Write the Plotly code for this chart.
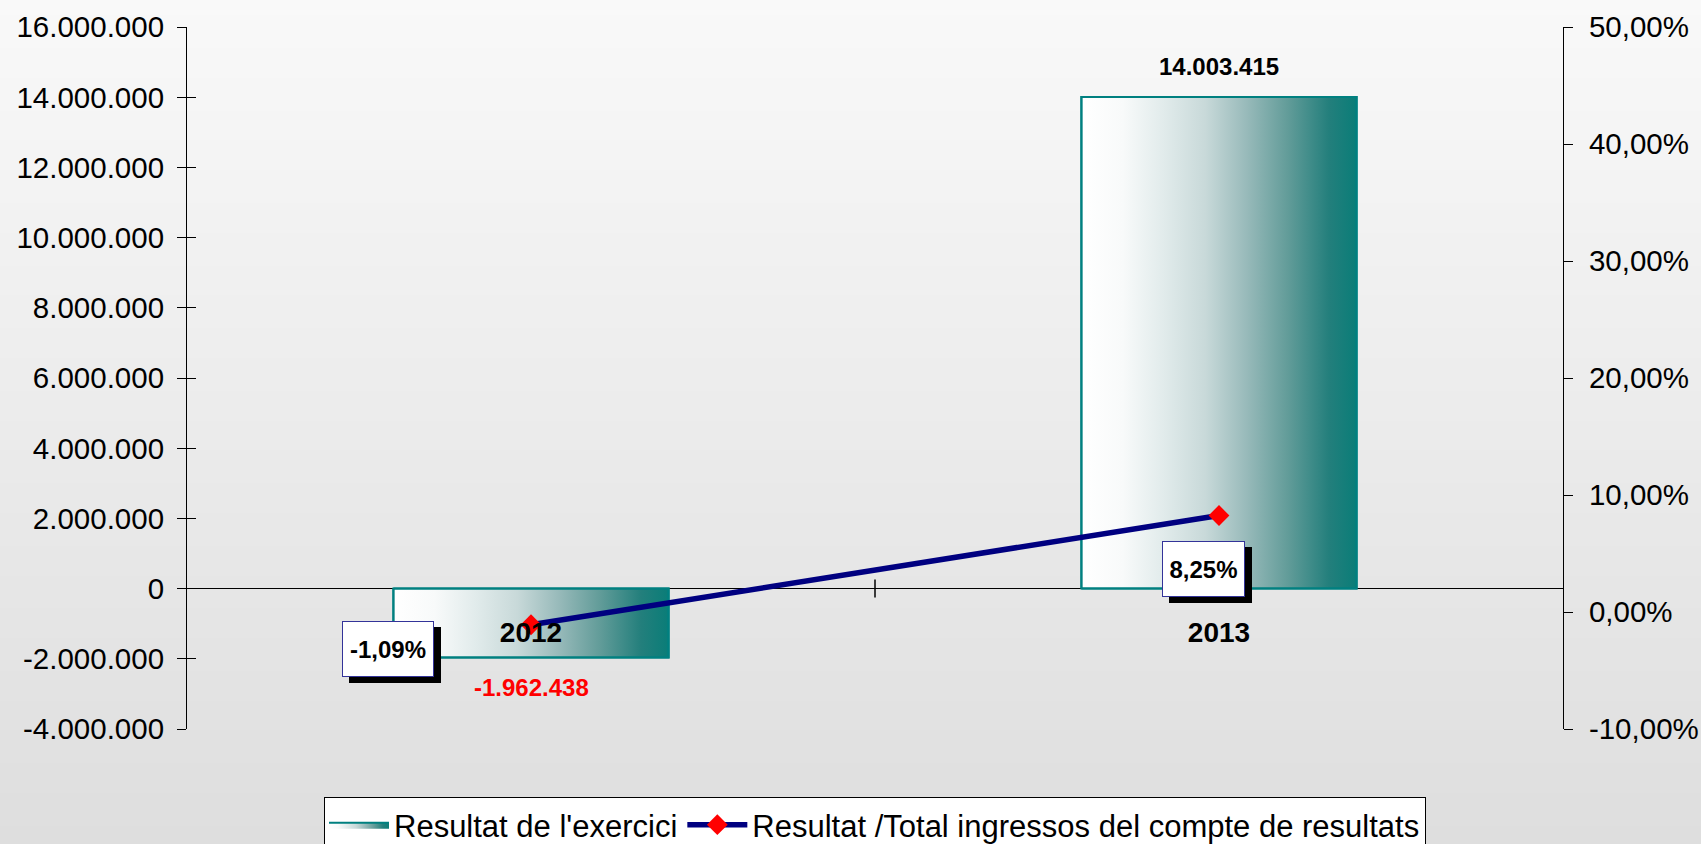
import base64
import struct
import zlib
import plotly.graph_objects as go

# ---------------- data ----------------
years = ["2012", "2013"]
resultat = [-1962438, 14003415]          # Resultat de l'exercici
ratio = [-0.0109, 0.0825]                # Resultat / Total ingressos
left_ticks = [-4000000, -2000000, 0, 2000000, 4000000, 6000000, 8000000,
              10000000, 12000000, 14000000, 16000000]
right_ticks = [-0.10, 0.0, 0.10, 0.20, 0.30, 0.40, 0.50]
bar_name = "Resultat de l'exercici"
line_name = "Resultat /Total ingressos del compte de resultats"

# ---------------- style / layout ----------------
FONT = "Liberation Sans, Arial, sans-serif"
W, H = 1701, 844
ML, MR, MT, MB = 187, 138, 27, 115
Y_RANGE = [-4000000, 16000000]
Y3_RANGE = [-0.10, 0.50]
BAR_W = 0.4
TEAL = "#008080"
NAVY = "#000080"
TICK_FONT = 29.5
bar_label_colors = ["#ff0000", "#000000"]
pct_offsets = [(-143, -24), (-16, -54)]     # label box offsets (px) from each point
pct_box_sizes = [(92, 56), (83, 56)]
SHADOW = (7, -6)
bar_grad = [[0.0, "#ffffff"], [0.15, "#f8fafa"], [0.3, "#e1ebeb"],
            [0.45, "#c8d9d9"], [0.6, "#98baba"], [0.75, "#629c99"],
            [0.9, "#237f7c"], [1.0, "#0a7d78"]]


def gradient_png(top, bottom, n=256):
    raw = b""
    for i in range(n):
        v = round(top + (bottom - top) * i / (n - 1))
        raw += b"\x00" + bytes([v])

    def chunk(tag, data):
        c = struct.pack(">I", len(data)) + tag + data
        return c + struct.pack(">I", zlib.crc32(tag + data) & 0xffffffff)

    png = (b"\x89PNG\r\n\x1a\n"
           + chunk(b"IHDR", struct.pack(">IIBBBBB", 1, n, 8, 0, 0, 0, 0))
           + chunk(b"IDAT", zlib.compress(raw))
           + chunk(b"IEND", b""))
    return "data:image/png;base64," + base64.b64encode(png).decode()


def fmt_int(v):
    return f"{v:,}".replace(",", ".")


def fmt_pct(v):
    return f"{v * 100:.2f}".replace(".", ",") + "%"


xs = list(range(len(years)))
fig = go.Figure()

# gradient fill of the bars (main axes)
for i, v in zip(xs, resultat):
    fig.add_trace(go.Scatter(
        x=[i - BAR_W / 2, i + BAR_W / 2, i + BAR_W / 2, i - BAR_W / 2, i - BAR_W / 2],
        y=[0, 0, v, v, 0],
        mode="lines", fill="toself",
        fillgradient=dict(type="horizontal", colorscale=bar_grad),
        line=dict(color=TEAL, width=2),
        name=bar_name, legendgroup="bar", showlegend=(i == 0),
        hoverinfo="skip", xaxis="x", yaxis="y",
    ))

# the bars themselves (outline), overlay axis matching y
fig.add_trace(go.Bar(
    x=xs, y=resultat, width=BAR_W,
    marker=dict(color="rgba(0,0,0,0)", line=dict(color=TEAL, width=2)),
    showlegend=False, name=bar_name, xaxis="x", yaxis="y2",
))

# ratio line
fig.add_trace(go.Scatter(
    x=xs, y=ratio, mode="lines+markers",
    line=dict(color=NAVY, width=5.5),
    marker=dict(symbol="diamond", size=16, color="#ff0000"),
    name=line_name, xaxis="x", yaxis="y3",
))

annotations = []
for i, v, c in zip(xs, resultat, bar_label_colors):
    annotations.append(dict(
        x=i, y=v, xref="x", yref="y", text=f"<b>{fmt_int(v)}</b>",
        showarrow=False, yshift=31 if v > 0 else -30,
        font=dict(family=FONT, size=24, color=c),
    ))

for i, r, (dx, dy), (bw, bh) in zip(xs, ratio, pct_offsets, pct_box_sizes):
    pad = 6
    common = dict(x=i, y=r, xref="x", yref="y3", showarrow=False,
                  text=f"<b>{fmt_pct(r)}</b>", width=bw - 2 * pad - 2,
                  height=bh - 2 * pad - 2, borderpad=pad, borderwidth=1,
                  align="center", valign="middle")
    annotations.append(dict(common, xshift=dx + SHADOW[0], yshift=dy + SHADOW[1],
                            bgcolor="#000000", bordercolor="#000000",
                            font=dict(family=FONT, size=24, color="#000000")))
    annotations.append(dict(common, xshift=dx, yshift=dy,
                            bgcolor="#ffffff", bordercolor="#333399",
                            font=dict(family=FONT, size=24, color="#000000")))

zero_pos = (0 - Y_RANGE[0]) / (Y_RANGE[1] - Y_RANGE[0])
pw, ph = W - ML - MR, H - MT - MB

fig.update_layout(
    width=W, height=H,
    margin=dict(l=ML, r=MR, t=MT, b=MB, pad=0, autoexpand=False),
    paper_bgcolor="#dedede", plot_bgcolor="rgba(0,0,0,0)",
    separators=",.",
    font=dict(family=FONT, size=30, color="#000000"),
    showlegend=True,
    legend=dict(orientation="h", x=0.5, xanchor="center", xref="paper",
                y=1 - 797 / H, yanchor="top", yref="container",
                bgcolor="#ffffff", bordercolor="#000000", borderwidth=1,
                font=dict(family=FONT, size=31, color="#000000"),
                itemwidth=60, tracegroupgap=0),
    xaxis=dict(range=[-0.5, len(years) - 0.5], anchor="free", position=zero_pos,
               tickmode="array", tickvals=xs, ticktext=years, ticks="",
               tickfont=dict(family=FONT, size=28, weight="bold"),
               ticklabelstandoff=24,
               showline=False, showgrid=False, zeroline=False),
    yaxis=dict(range=Y_RANGE, tickmode="array", tickvals=left_ticks,
               ticktext=[fmt_int(t) for t in left_ticks],
               ticks="outside", ticklen=9, tickcolor="#000000",
               showline=True, linecolor="#000000", linewidth=1,
               showgrid=False, zeroline=True, zerolinecolor="#000000",
               zerolinewidth=1, ticklabelstandoff=7,
               tickfont=dict(family=FONT, size=TICK_FONT)),
    yaxis2=dict(matches="y", overlaying="y", side="left", anchor="x",
                tickmode="array", tickvals=left_ticks, ticks="inside",
                ticklen=9, tickcolor="#000000", showticklabels=False,
                showline=False, showgrid=False, zeroline=False),
    yaxis3=dict(range=Y3_RANGE, overlaying="y", side="right", anchor="x",
                tickmode="array", tickvals=right_ticks,
                ticktext=[fmt_pct(t) for t in right_ticks],
                ticks="outside", ticklen=9, tickcolor="#000000",
                showline=True, linecolor="#000000", linewidth=1,
                showgrid=False, zeroline=False, ticklabelstandoff=10,
                tickfont=dict(family=FONT, size=TICK_FONT)),
    yaxis4=dict(matches="y3", overlaying="y", side="right", anchor="x",
                tickmode="array", tickvals=right_ticks, ticks="inside",
                ticklen=9, tickcolor="#000000", showticklabels=False,
                showline=False, showgrid=False, zeroline=False),
    annotations=annotations,
    shapes=[dict(type="line", xref="x", yref="y",
                 x0=(xs[0] + xs[1]) / 2, x1=(xs[0] + xs[1]) / 2,
                 ysizemode="pixel", yanchor=0, y0=-9, y1=9,
                 line=dict(color="#000000", width=1.5))],
    images=[dict(source=gradient_png(249, 222), xref="paper", yref="paper",
                 x=-ML / pw, y=1 + MT / ph, sizex=W / pw, sizey=H / ph,
                 xanchor="left", yanchor="top", sizing="stretch",
                 layer="below", opacity=1)],
)

fig.write_html(
    "out.html",
    config={"displayModeBar": False},
    post_script="document.body.style.margin='0';"
                "document.body.style.overflow='hidden';"
                "document.documentElement.style.overflow='hidden';",
)
